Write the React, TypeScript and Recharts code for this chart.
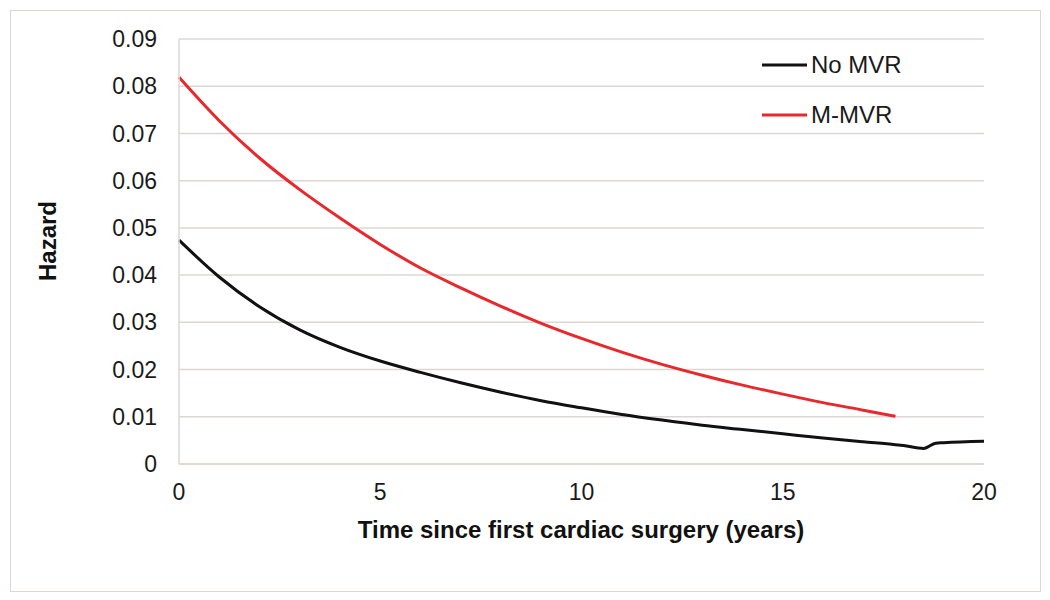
import React from 'react';
import { LineChart, Line, XAxis, YAxis, CartesianGrid } from 'recharts';

// Time since first cardiac surgery (years)
const years = [0, 1, 2, 3, 4, 5, 6, 7, 8, 9, 10, 11, 12, 13, 14, 15, 16, 17, 17.8, 18, 18.5, 18.8, 19, 20];

const noMvr = [
  0.0474, 0.0396, 0.0333, 0.0284, 0.0247, 0.0218, 0.0194, 0.0172, 0.0152, 0.0134, 0.0119, 0.0105,
  0.0093, 0.0082, 0.0073, 0.0064, 0.0055, 0.0047, 0.0041, 0.0039, 0.0033, 0.0044, 0.0045, 0.0048,
];

const mMvr = [
  0.0819, 0.0727, 0.0648, 0.0581, 0.0521, 0.0465, 0.0415, 0.0373, 0.0334, 0.0298, 0.0266, 0.0237,
  0.0211, 0.0188, 0.0167, 0.0148, 0.0130, 0.0114, 0.0101, null, null, null, null, null,
];

const xTicks = [0, 5, 10, 15, 20];
const yTicks = [0, 0.01, 0.02, 0.03, 0.04, 0.05, 0.06, 0.07, 0.08, 0.09];

const series = [
  { key: 'noMvr', name: 'No MVR', color: '#111111' },
  { key: 'mMvr', name: 'M-MVR', color: '#e8282b' },
];

const data = years.map((t, i) => ({ t, noMvr: noMvr[i], mMvr: mMvr[i] }));

const FONT = '"Liberation Sans", Arial, sans-serif';
const GRID = '#dcd7d3';
const FS = 23;

const LegendBox = () => (
  <div
    style={{
      position: 'absolute',
      left: 754,
      top: 32,
      fontFamily: FONT,
      fontSize: 24,
      color: '#1a1a1a',
    }}
  >
    {series.map((s) => (
      <div key={s.key} style={{ display: 'flex', alignItems: 'center', height: 50 }}>
        <svg width={47} height={6} style={{ marginRight: 2 }}>
          <line x1={0} y1={3} x2={45} y2={3} stroke={s.color} strokeWidth={3} />
        </svg>
        <span>{s.name}</span>
      </div>
    ))}
  </div>
);

const HazardLabel = () => (
  <text
    x={47}
    y={241}
    transform="rotate(-90 47 241)"
    textAnchor="middle"
    dominantBaseline="central"
    fontFamily={FONT}
    fontSize={24}
    fontWeight="bold"
    fill="#111"
  >
    Hazard
  </text>
);

const XTitle = () => (
  <text
    x={581}
    y={529}
    textAnchor="middle"
    dominantBaseline="central"
    fontFamily={FONT}
    fontSize={24}
    fontWeight="bold"
    fill="#111"
  >
    Time since first cardiac surgery (years)
  </text>
);

export default function App() {
  return (
    <div style={{ position: 'relative', width: 1034, height: 584 }}>
      <div
        style={{
          position: 'absolute',
          left: 2,
          top: 2,
          width: 1029,
          height: 580,
          border: `1.5px solid ${GRID}`,
          background: '#fff',
        }}
      />
      <div style={{ position: 'absolute', left: -8, top: -8 }}>
        <LineChart
          width={1050}
          height={600}
          data={data}
          margin={{ top: 39, right: 66, bottom: 106, left: 0 }}
        >
          <CartesianGrid vertical={false} stroke={GRID} strokeWidth={1.5} />
          <XAxis
            dataKey="t"
            type="number"
            domain={[0, 20]}
            ticks={xTicks}
            tickLine={false}
            axisLine={{ stroke: GRID, strokeWidth: 1.5 }}
            tickMargin={14}
            tick={{ fill: '#1a1a1a', fontSize: FS, fontFamily: FONT }}
            height={30}
            label={{ content: XTitle }}
          />
          <YAxis
            type="number"
            domain={[0, 0.09]}
            ticks={yTicks}
            width={179}
            tickLine={false}
            axisLine={{ stroke: GRID, strokeWidth: 1.5 }}
            tickMargin={16}
            tick={{ fill: '#1a1a1a', fontSize: FS, fontFamily: FONT }}
            tickFormatter={(v: number) => (v === 0 ? '0' : v.toFixed(2))}
            label={{ content: HazardLabel }}
          />
          {series.map((s) => (
            <Line
              key={s.key}
              type="monotone"
              dataKey={s.key}
              name={s.name}
              stroke={s.color}
              strokeWidth={3}
              dot={false}
              activeDot={false}
              isAnimationActive={false}
            />
          ))}
        </LineChart>
      </div>
      <LegendBox />
    </div>
  );
}
